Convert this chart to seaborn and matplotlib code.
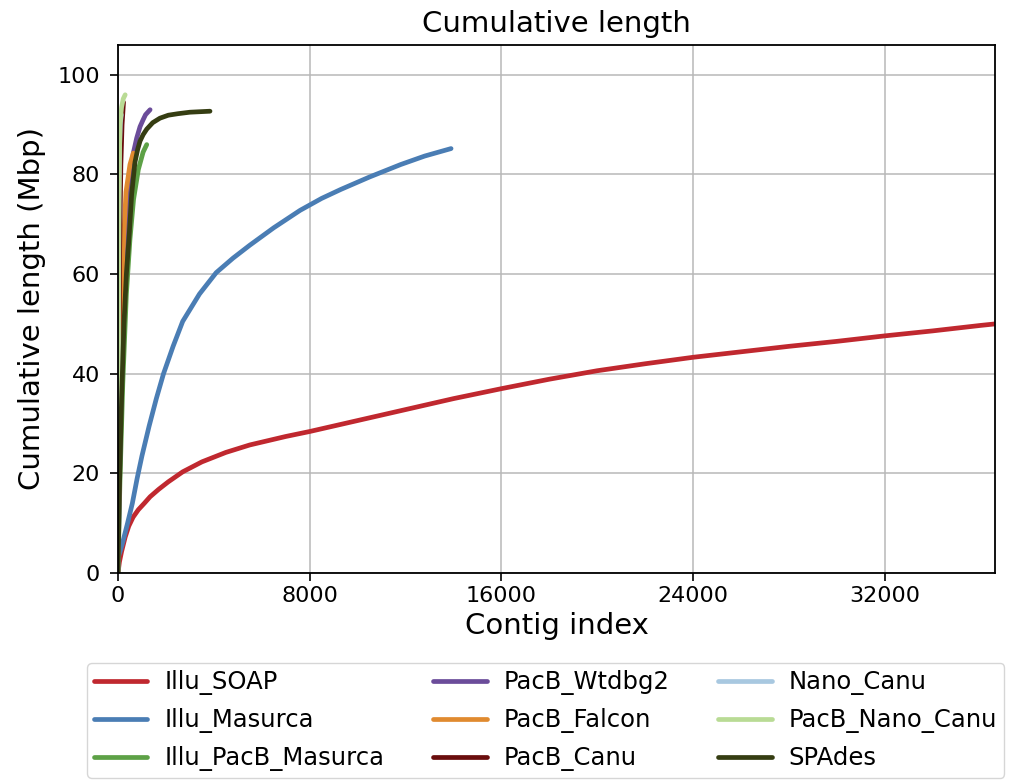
import numpy as np
import pandas as pd
import matplotlib
matplotlib.use("Agg")
import matplotlib.pyplot as plt
import seaborn as sns

# Cumulative assembly length (Mbp) against contig index, one series per assembler
assemblies = ["Illu_SOAP", "Illu_Masurca", "Illu_PacB_Masurca", "PacB_Wtdbg2",
              "PacB_Falcon", "PacB_Canu", "Nano_Canu", "PacB_Nano_Canu", "SPAdes"]

colors = ["#c0282f", "#4a7db4", "#5da146", "#6b4c9a", "#e08a2f",
          "#6a0d0d", "#a8c8e0", "#b9db95", "#353d12"]

soap_idx = [0, 60, 150, 300, 450, 630, 850, 1100, 1340, 1700, 2100, 2700, 3500,
            4500, 5500, 7000, 8000, 10000, 12000, 14000, 16000, 18000, 20000,
            22000, 24000, 26000, 28000, 30000, 32000, 34000, 36000, 37000]
soap_len = [0, 2.2, 4.3, 7.2, 9.4, 11.2, 12.7, 14.0, 15.3, 16.8, 18.3, 20.3, 22.3,
            24.2, 25.7, 27.4, 28.4, 30.6, 32.8, 35.0, 37.0, 38.9, 40.6,
            42.0, 43.3, 44.4, 45.5, 46.5, 47.6, 48.6, 49.7, 50.2]

masurca_idx = [0, 100, 200, 400, 600, 800, 1000, 1300, 1600, 1900, 2300, 2700,
               3400, 4100, 4800, 5500, 6500, 7600, 8500, 9300, 10500, 11800,
               12800, 13900]
masurca_len = [3, 4.5, 6.2, 10, 14, 19, 23.5, 29.5, 35, 40, 45.5, 50.5,
               56, 60.3, 63.2, 65.8, 69.3, 72.8, 75.2, 77, 79.5, 82,
               83.7, 85.2]

illu_pacb_idx = [0, 80, 200, 350, 500, 650, 850, 1050, 1200]
illu_pacb_len = [0, 18, 38, 56, 67, 75, 81, 84.5, 86]

wtdbg2_idx = [0, 100, 250, 400, 520, 640, 780, 920, 1050, 1150, 1340]
wtdbg2_len = [0, 30, 55, 72, 79, 84.3, 87.3, 89.6, 91, 92, 93]

falcon_idx = [0, 60, 195, 335, 500, 640]
falcon_len = [0, 25, 63, 76.5, 82, 84.3]

pacb_canu_idx = [0, 30, 70, 120, 170, 230]
pacb_canu_len = [0, 35, 65, 82, 90, 94.5]

nano_canu_idx = [0, 10, 30, 60, 100, 140]
nano_canu_len = [0, 35, 70, 85, 90.5, 92]

pacb_nano_idx = [0, 15, 40, 80, 150, 220, 300]
pacb_nano_len = [0, 40, 75, 90, 93.5, 95.2, 96]

spades_idx = [0, 50, 150, 250, 350, 470, 570, 710, 820, 920, 1050, 1200, 1450,
              1750, 2100, 2500, 3000, 3840]
spades_len = [0, 15, 35, 50, 60, 68, 76, 82.5, 85, 86.7, 88, 89.1, 90.4,
              91.3, 91.9, 92.2, 92.5, 92.7]

series_idx = [soap_idx, masurca_idx, illu_pacb_idx, wtdbg2_idx, falcon_idx,
              pacb_canu_idx, nano_canu_idx, pacb_nano_idx, spades_idx]
series_len = [soap_len, masurca_len, illu_pacb_len, wtdbg2_len, falcon_len,
              pacb_canu_len, nano_canu_len, pacb_nano_len, spades_len]

xticks = [0, 8000, 16000, 24000, 32000]
yticks = [0, 20, 40, 60, 80, 100]

frames = []
for name, xs, ys in zip(assemblies, series_idx, series_len):
    frames.append(pd.DataFrame({"Contig index": xs,
                                "Cumulative length (Mbp)": ys,
                                "Assembly": name}))
df = pd.concat(frames, ignore_index=True)

sns.set_theme(style="ticks")
plt.rcParams["font.family"] = ["DejaVu Sans"]
plt.rcParams["text.color"] = "black"
plt.rcParams["axes.labelcolor"] = "black"

fig = plt.figure(figsize=(10.11, 7.82), dpi=100)
ax = fig.add_axes([0.1167, 0.2673, 0.8675, 0.6752])

sns.lineplot(data=df, x="Contig index", y="Cumulative length (Mbp)",
             hue="Assembly", hue_order=assemblies,
             palette=dict(zip(assemblies, colors)),
             estimator=None, sort=False, linewidth=3.4, ax=ax, legend=True)

ax.set_xlim(0, 36600)
ax.set_ylim(0, 106)
ax.set_xticks(xticks)
ax.set_yticks(yticks)
ax.grid(True, color="#b8b8b8", linewidth=1.1)
ax.set_axisbelow(True)
for sp in ax.spines.values():
    sp.set_color("black")
    sp.set_linewidth(1.3)

ax.tick_params(axis="both", colors="black", labelcolor="black",
               length=6, width=1.2, labelsize=16)
ax.tick_params(axis="x", pad=3.5)
ax.tick_params(axis="y", pad=7)
ax.set_title("Cumulative length", fontsize=21, pad=9, color="black")
ax.set_xlabel("Contig index", fontsize=21, labelpad=4, color="black")
ax.set_ylabel("Cumulative length (Mbp)", fontsize=21, labelpad=8, color="black")

handles, labels = ax.get_legend_handles_labels()
leg = ax.legend(handles, labels, ncol=3, loc="upper center",
                bbox_to_anchor=(0.4875, -0.1705), borderaxespad=0,
                fontsize=17.5, handlelength=2.2, handletextpad=0.7,
                columnspacing=2.0, labelspacing=0.53, borderpad=0.3,
                frameon=True, edgecolor="#cccccc", fancybox=True)
for line in leg.get_lines():
    line.set_linewidth(3.4)
for txt in leg.get_texts():
    txt.set_color("black")

fig.savefig("out.png", dpi=100)
